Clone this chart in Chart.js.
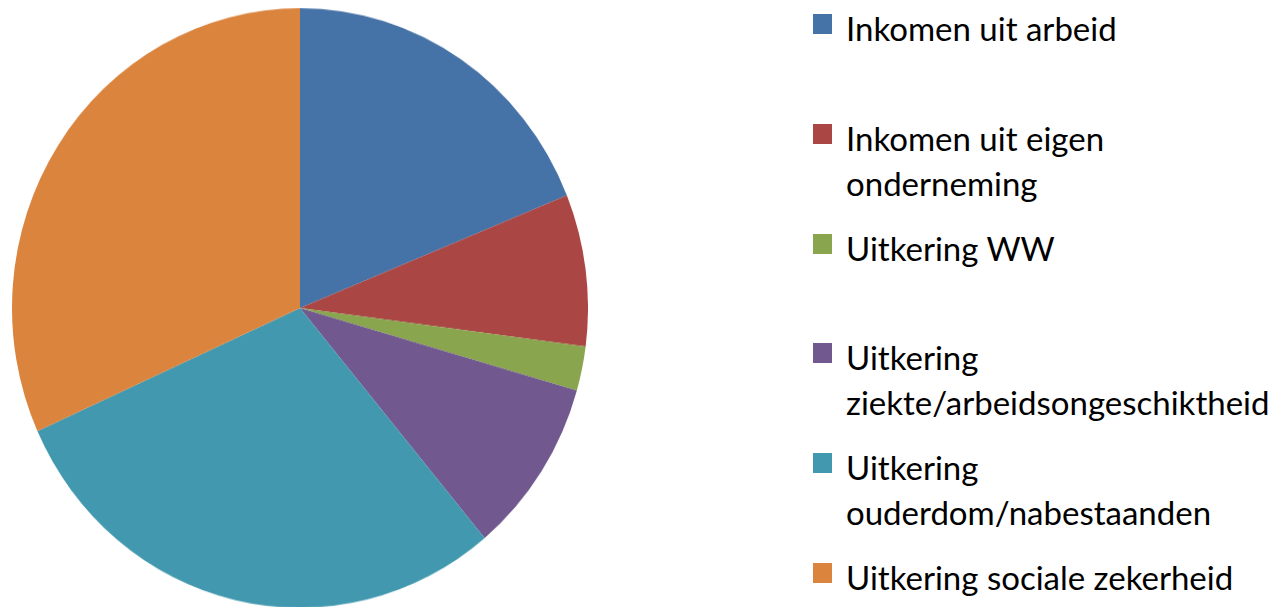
<!DOCTYPE html>
<html>
<head>
<meta charset="utf-8">
<script src="https://cdn.jsdelivr.net/npm/chart.js@4.4.1/dist/chart.umd.min.js"></script>
<style>
    body {
        margin: 0;
        background: #ffffff;
        width: 1283px;
        height: 607px;
        overflow: hidden;
        position: relative;
        font-family: Lato, 'Open Sans', sans-serif;
    }
    /* the pie in the original is a little taller than wide */
    #pieBox {
        position: absolute;
        left: 12px;
        top: 20px;
        width: 576px;
        height: 576px;
        transform: scaleY(1.041);
        transform-origin: 50% 50%;
    }
    .swatch {
        position: absolute;
        left: 813px;
        width: 19px;
        height: 20px;
    }
    .line {
        position: absolute;
        left: 846px;
        font-size: 33px;
        line-height: 33px;
        white-space: nowrap;
        color: #000000;
    }
</style>
</head>
<body>
<div id="pieBox"><canvas id="incomeChart" width="576" height="576"></canvas></div>
<div id="legend"></div>

<script>
// ============================================
// Data
// ============================================
const labelLines = [
    ['Inkomen uit arbeid'],
    ['Inkomen uit eigen', 'onderneming'],
    ['Uitkering WW'],
    ['Uitkering', 'ziekte/arbeidsongeschiktheid'],
    ['Uitkering', 'ouderdom/nabestaanden'],
    ['Uitkering sociale zekerheid']
];
const shares = [18.9, 8.2, 2.4, 9.5, 29.4, 31.8];
const colors = ['#4572A7', '#AA4643', '#89A54E', '#71588F', '#4198AF', '#DB843D'];

// legend baseline of the first line of each entry (layout only)
const legendBaselines = [39, 149, 259, 368, 478, 588];
const legendLineGap = 45;

const labels = labelLines.map(l => l.join(' '));

// ============================================
// Pie
// ============================================
const ctx = document.getElementById('incomeChart').getContext('2d');
new Chart(ctx, {
    type: 'pie',
    data: {
        labels: labels,
        datasets: [{
            data: shares,
            backgroundColor: colors,
            borderWidth: 0
        }]
    },
    options: {
        responsive: false,
        animation: false,
        layout: { padding: 0 },
        plugins: {
            legend: { display: false },
            tooltip: { enabled: false }
        }
    }
});

// ============================================
// Legend (html)
// ============================================
const legend = document.getElementById('legend');
const ascent = 0.887 * 33 - 2;
labelLines.forEach((lines, i) => {
    const base = legendBaselines[i];
    const sw = document.createElement('div');
    sw.className = 'swatch';
    sw.style.top = (base - 25) + 'px';
    sw.style.background = colors[i];
    legend.appendChild(sw);

    lines.forEach((text, j) => {
        const ln = document.createElement('div');
        ln.className = 'line';
        ln.style.top = (base + j * legendLineGap - ascent) + 'px';
        ln.textContent = text;
        legend.appendChild(ln);
    });
});
</script>
</body>
</html>
